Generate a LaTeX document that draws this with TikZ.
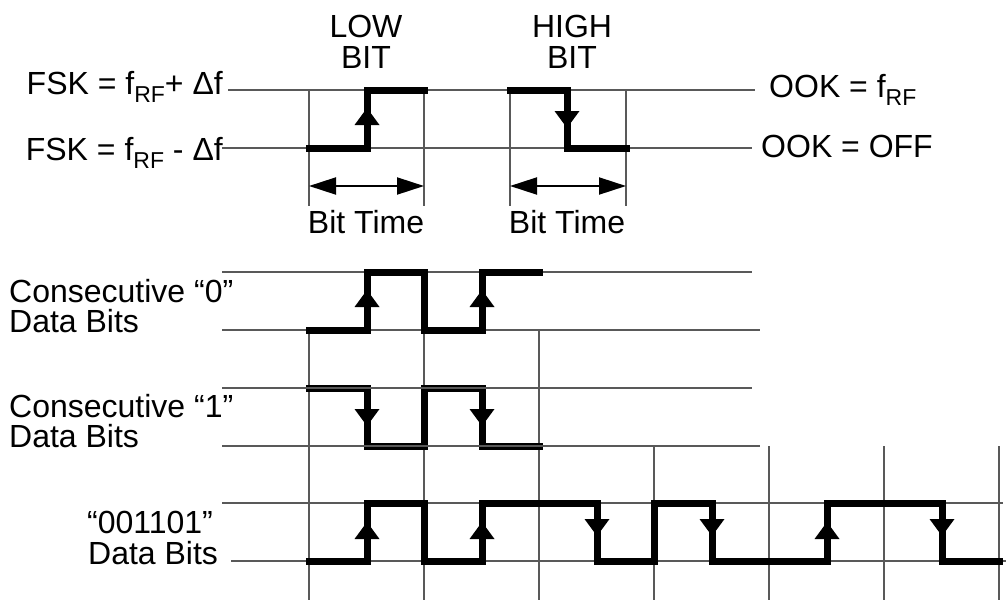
\documentclass[tikz,border=0pt]{standalone}
\usepackage{fontspec}
\setmainfont{Liberation Sans}
\usetikzlibrary{arrows.meta}
\newcommand\rfsub{\raisebox{-8pt}{\fontsize{23}{23}\selectfont RF}}
\begin{document}
\begin{tikzpicture}[x=1pt,y=-1pt,
  gline/.style={draw=black!65,line width=1.2pt},
  wave/.style={draw=black,line width=7pt,line cap=rect,line join=miter},
  lbl/.style={font=\fontsize{32}{33}\selectfont,inner sep=0pt},
  bt/.style={draw=black,line width=2pt,{Triangle[length=27pt,width=17pt]}-{Triangle[length=27pt,width=17pt]}},
  uptri/.pic={\fill (0,-9) -- (-12.5,8) -- (12.5,8) -- cycle;},
  dntri/.pic={\fill (0,9) -- (-12.5,-8) -- (12.5,-8) -- cycle;}
]
\useasboundingbox (0,0) rectangle (1008,600);

% ---------- top section ----------
\draw[gline] (228,90) -- (755,90);
\draw[gline] (222,148) -- (752,148);
\foreach \x in {309,424,510,626} \draw[gline] (\x,90) -- (\x,206);

\draw[wave] (309,148) -- (367,148) -- (367,90) -- (424,90);
\draw[wave] (510,90) -- (567,90) -- (567,148) -- (626,148);
\pic at (367,117) {uptri};
\pic at (567,119) {dntri};

\coordinate (bta) at (309,186);
\coordinate (btb) at (424,186);
\coordinate (btc) at (510,186);
\coordinate (btd) at (626,186);
\draw[bt] (bta) -- (btb);
\draw[bt] (btc) -- (btd);

\node[lbl,anchor=base] (low) at (366,37) {LOW};
\node[lbl,anchor=base] (lowbit) at (366,68) {BIT};
\node[lbl,anchor=base] (high) at (572,37) {HIGH};
\node[lbl,anchor=base] (highbit) at (572,68) {BIT};
\node[lbl,anchor=base east] (fskhi) at (223,94) {FSK = f\rfsub+ Δf};
\node[lbl,anchor=base east] (fsklo) at (223,160) {FSK = f\rfsub{} - Δf};
\node[lbl,anchor=base west] (ookhi) at (769,97) {OOK = f\rfsub};
\node[lbl,anchor=base west] (ooklo) at (761,157) {OOK = OFF};
\node[lbl,anchor=base] (bt1) at (366,233) {Bit Time};
\node[lbl,anchor=base] (bt2) at (567,233) {Bit Time};

% ---------- bottom grid ----------
\draw[gline] (222,272) -- (752,272);
\draw[gline] (222,330) -- (760,330);
\draw[gline] (222,503) -- (1003,503);
\draw[gline] (231,561) -- (1006,561);
\foreach \x in {309,424,539} \draw[gline] (\x,330) -- (\x,600);
\foreach \x in {654,769,884,999} \draw[gline] (\x,446) -- (\x,600);

% row 1: consecutive 0
\draw[wave] (309,330) -- (367,330) -- (367,272) -- (424,272) -- (424,330) -- (482,330) -- (482,272) -- (539,272);
\pic at (367,299) {uptri};
\pic at (482,299) {uptri};

% row 2: consecutive 1
\draw[wave] (309,388) -- (367,388) -- (367,446) -- (424,446) -- (424,388) -- (482,388) -- (482,446) -- (539,446);
\pic at (367,417) {dntri};
\pic at (482,417) {dntri};
\draw[gline] (222,388) -- (752,388);
\draw[gline] (222,446) -- (760,446);

% row 3: 001101
\draw[wave] (309,561) -- (367,561) -- (367,503) -- (424,503) -- (424,561) -- (482,561) -- (482,503) -- (597,503) -- (597,561) -- (654,561) -- (654,503) -- (712,503) -- (712,561) -- (827,561) -- (827,503) -- (942,503) -- (942,561) -- (999,561);
\foreach \x in {367,482,827} \pic at (\x,531) {uptri};
\foreach \x in {597,712,942} \pic at (\x,527) {dntri};

\node[lbl,anchor=base west] (c0a) at (9,302) {Consecutive “0”};
\node[lbl,anchor=base west] (c0b) at (9,332) {Data Bits};
\node[lbl,anchor=base west] (c1a) at (9,417) {Consecutive “1”};
\node[lbl,anchor=base west] (c1b) at (9,447) {Data Bits};
\node[lbl,anchor=base west] (d3a) at (87,533) {“001101”};
\node[lbl,anchor=base west] (d3b) at (88,564) {Data Bits};
\end{tikzpicture}
\end{document}
